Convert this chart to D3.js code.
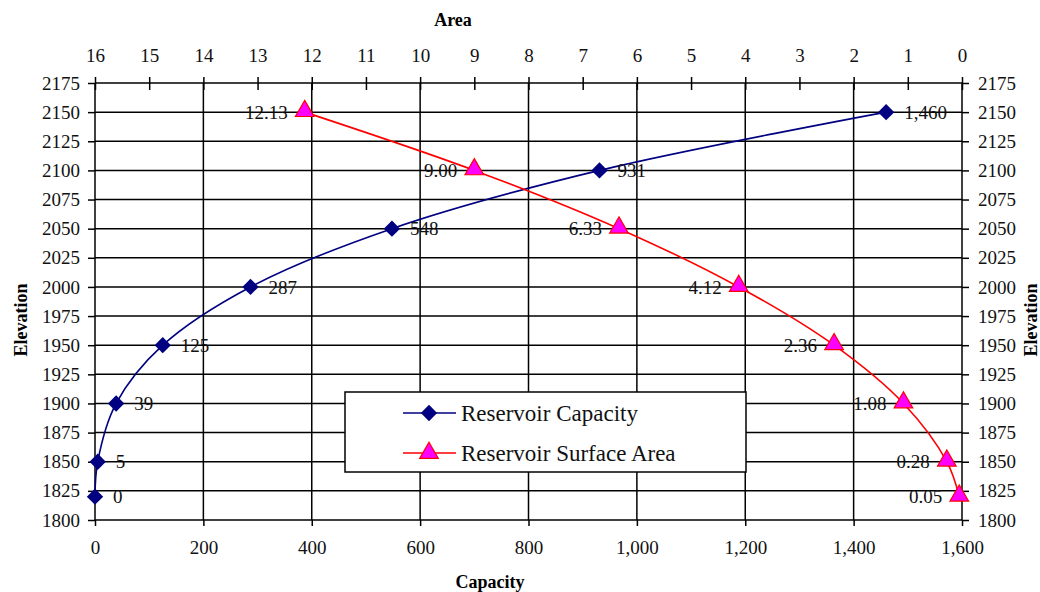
<!DOCTYPE html>
<html>
<head>
<meta charset="utf-8">
<script src="https://cdn.jsdelivr.net/npm/d3@7"></script>
<style>
  body { margin: 0; background: #fff; }
  svg { display: block; font-family: "Liberation Serif", "Times New Roman", serif; }
  .axis path.domain { display: none; }
  .axis line { stroke: #000; stroke-width: 1.5; }
</style>
</head>
<body>
<svg id="chart" width="1040" height="592"></svg>
<script>
// data
const elevation = [1820, 1850, 1900, 1950, 2000, 2050, 2100, 2150];
const capacity  = [0, 5, 39, 125, 287, 548, 931, 1460];
const area      = [0.05, 0.28, 1.08, 2.36, 4.12, 6.33, 9.00, 12.13];
const capLabels  = ["0", "5", "39", "125", "287", "548", "931", "1,460"];
const areaLabels = ["0.05", "0.28", "1.08", "2.36", "4.12", "6.33", "9.00", "12.13"];
const elevTicks = d3.range(1800, 2176, 25);
const capTicks  = d3.range(0, 1601, 200);
const areaTicks = d3.range(0, 17, 1);
const seriesNames = ["Reservoir Capacity", "Reservoir Surface Area"];

const serif = '"Liberation Serif", "Times New Roman", serif';
const svg = d3.select("#chart");
svg.append("rect").attr("width", 1040).attr("height", 592).attr("fill", "#fff");

const plotL = 95, plotR = 962, plotT = 83, plotB = 520;
const x = d3.scaleLinear().domain([0, 1600]).range([plotL, plotR]);
const xTop = d3.scaleLinear().domain([16, 0]).range([plotL, plotR]);
const y = d3.scaleLinear().domain([1800, 2175]).range([plotB, plotT]);

// grid
const grid = svg.append("g").attr("stroke", "#000").attr("stroke-width", 1.5);
grid.selectAll(".h").data(elevTicks).join("line").attr("class", "h")
  .attr("x1", plotL).attr("x2", plotR)
  .attr("y1", d => y(d)).attr("y2", d => y(d));
grid.selectAll(".v").data(capTicks).join("line").attr("class", "v")
  .attr("x1", d => x(d)).attr("x2", d => x(d))
  .attr("y1", plotT).attr("y2", plotB);

// axes
svg.append("g").attr("class", "axis")
  .attr("transform", `translate(${plotL},0)`)
  .call(d3.axisLeft(y).tickValues(elevTicks).tickSize(7).tickPadding(8).tickFormat(d3.format("d")));
svg.append("g").attr("class", "axis")
  .attr("transform", `translate(${plotR},0)`)
  .call(d3.axisRight(y).tickValues(elevTicks).tickSize(7).tickPadding(9).tickFormat(d3.format("d")));
svg.append("g").attr("class", "axis")
  .attr("transform", `translate(0,${plotB})`)
  .call(d3.axisBottom(x).tickValues(capTicks).tickSize(6).tickPadding(15).tickFormat(d3.format(",")));
const topAxis = svg.append("g").attr("class", "axis")
  .attr("transform", `translate(0,${plotT})`)
  .call(d3.axisTop(xTop).tickValues(areaTicks).tickSize(6).tickPadding(15).tickFormat(d3.format("d")));
topAxis.selectAll(".tick line").attr("y1", 7).attr("y2", -6);
svg.selectAll(".axis").attr("font-family", serif).attr("font-size", 19);
svg.selectAll(".axis text").style("font-family", serif).attr("fill", "#111");

// axis titles
svg.append("text").attr("x", 453).attr("y", 26).attr("text-anchor", "middle")
  .attr("font-weight", "bold").attr("font-size", 18).text("Area");
svg.append("text").attr("x", 490).attr("y", 588).attr("text-anchor", "middle")
  .attr("font-weight", "bold").attr("font-size", 18).text("Capacity");
svg.append("text").attr("transform", "translate(27,320) rotate(-90)").attr("text-anchor", "middle")
  .attr("font-weight", "bold").attr("font-size", 18).text("Elevation");
svg.append("text").attr("transform", "translate(1037,320) rotate(-90)").attr("text-anchor", "middle")
  .attr("font-weight", "bold").attr("font-size", 18).text("Elevation");

// series
const capPts = elevation.map((e, i) => ({ x: x(capacity[i]), y: y(e), label: capLabels[i] }));
const areaPts = elevation.map((e, i) => ({ x: xTop(area[i]), y: y(e), label: areaLabels[i] }));
const line = d3.line().x(d => d.x).y(d => d.y).curve(d3.curveCatmullRom.alpha(0.5));

svg.append("path").datum(capPts).attr("d", line)
  .attr("fill", "none").attr("stroke", "#000080").attr("stroke-width", 1.6);
svg.append("path").datum(areaPts).attr("d", line)
  .attr("fill", "none").attr("stroke", "#ff0000").attr("stroke-width", 1.6);

const diamond = d3.symbol().type(d3.symbolDiamond2).size(170);
const triangle = d3.symbol().type(d3.symbolTriangle).size(150);

svg.append("g").selectAll("path").data(capPts).join("path")
  .attr("d", diamond).attr("transform", d => `translate(${d.x},${d.y})`)
  .attr("fill", "#000080");
svg.append("g").selectAll("path").data(areaPts).join("path")
  .attr("d", triangle).attr("transform", d => `translate(${d.x},${d.y - 1})`)
  .attr("fill", "#ff00ff").attr("stroke", "#ff0000").attr("stroke-width", 1.2);

svg.append("g").selectAll("text").data(capPts).join("text")
  .attr("x", d => d.x + 18).attr("y", d => d.y).attr("dy", "0.35em")
  .attr("font-size", 19).attr("fill", "#111").text(d => d.label);
svg.append("g").selectAll("text").data(areaPts).join("text")
  .attr("x", d => d.x - 17).attr("y", d => d.y).attr("dy", "0.35em")
  .attr("text-anchor", "end").attr("font-size", 19).attr("fill", "#111").text(d => d.label);

// legend
const lg = svg.append("g").attr("transform", "translate(345,392)");
lg.append("rect").attr("width", 401).attr("height", 80)
  .attr("fill", "#fff").attr("stroke", "#000").attr("stroke-width", 1.5);
const items = [
  { name: seriesNames[0], color: "#000080", sym: diamond, fill: "#000080", stroke: "none" },
  { name: seriesNames[1], color: "#ff0000", sym: triangle, fill: "#ff00ff", stroke: "#ff0000" }
];
const row = lg.selectAll(".item").data(items).join("g")
  .attr("transform", (d, i) => `translate(0,${21 + i * 40})`);
row.append("line").attr("x1", 58).attr("x2", 111)
  .attr("stroke", d => d.color).attr("stroke-width", 1.6);
row.append("path").attr("d", d => d.sym()).attr("transform", "translate(84,0)")
  .attr("fill", d => d.fill).attr("stroke", d => d.stroke).attr("stroke-width", 1.2);
row.append("text").attr("x", 116).attr("dy", "0.35em")
  .attr("font-size", 23).attr("fill", "#111").text(d => d.name);
</script>
</body>
</html>
